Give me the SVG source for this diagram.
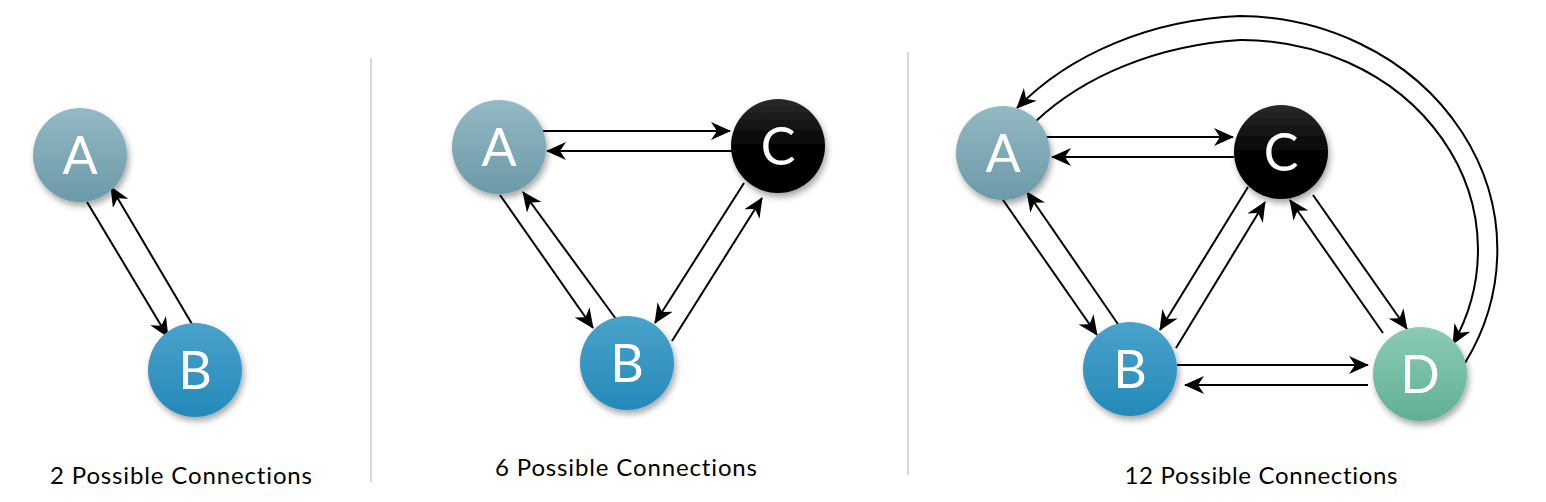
<svg xmlns="http://www.w3.org/2000/svg" width="1546" height="502" viewBox="0 0 1546 502">
<style>
.lbl{font-family:Lato,"Liberation Sans",sans-serif;font-size:24px;fill:#000;text-anchor:middle;font-variant-ligatures:none}
.ltr{font-family:Lato,"Liberation Sans",sans-serif;font-size:52px;fill:#fff;text-anchor:middle}
.cn{fill:none;stroke:#000;stroke-width:2;marker-end:url(#ah)}
.div{stroke:#d9d9d9;stroke-width:2}
</style>
<defs>
<marker id="ah" viewBox="0 0 20 18" refX="19" refY="9" markerWidth="20" markerHeight="18" markerUnits="userSpaceOnUse" orient="auto">
<path d="M0,0 L20,9 L0,18 L6,9 z" fill="#000"/>
</marker>
<linearGradient id="gA" x1="0" y1="0" x2="0" y2="1"><stop offset="0" stop-color="#93b9c4"/><stop offset="1" stop-color="#6c9aa8"/></linearGradient>
<linearGradient id="gB" x1="0" y1="0" x2="0" y2="1"><stop offset="0" stop-color="#4aa2ca"/><stop offset="1" stop-color="#2589b9"/></linearGradient>
<linearGradient id="gC" x1="0" y1="0" x2="0" y2="1"><stop offset="0" stop-color="#2a2a2a"/><stop offset="0.5" stop-color="#050505"/><stop offset="1" stop-color="#000"/></linearGradient>
<linearGradient id="gD" x1="0" y1="0" x2="0" y2="1"><stop offset="0" stop-color="#8ccbb3"/><stop offset="1" stop-color="#5fb096"/></linearGradient>
<filter id="sh" x="-30%" y="-30%" width="160%" height="170%"><feDropShadow dx="2" dy="4" stdDeviation="3" flood-color="#000" flood-opacity="0.35"/></filter>
</defs>

<line class="div" x1="371" y1="58" x2="371" y2="482"/>
<line class="div" x1="908" y1="52" x2="908" y2="475"/>

<g id="connectors">
<line class="cn" x1="87" y1="202" x2="168" y2="337"/>
<line class="cn" x1="192" y1="324" x2="111" y2="187"/>

<line class="cn" x1="540" y1="131" x2="730" y2="131"/>
<line class="cn" x1="732" y1="151" x2="547" y2="151"/>
<line class="cn" x1="500" y1="195" x2="593" y2="328"/>
<line class="cn" x1="616" y1="319" x2="523" y2="192"/>
<line class="cn" x1="744" y1="183" x2="655" y2="323"/>
<line class="cn" x1="672" y1="341" x2="762" y2="198"/>

<line class="cn" x1="1044" y1="137" x2="1233" y2="137"/>
<line class="cn" x1="1234" y1="157" x2="1052" y2="157"/>
<line class="cn" x1="1003" y1="200" x2="1097" y2="335"/>
<line class="cn" x1="1120" y1="327" x2="1027" y2="192"/>
<line class="cn" x1="1248" y1="187" x2="1160" y2="330"/>
<line class="cn" x1="1176" y1="348" x2="1265" y2="202"/>
<line class="cn" x1="1313" y1="195" x2="1407" y2="329"/>
<line class="cn" x1="1383" y1="333" x2="1290" y2="200"/>
<line class="cn" x1="1177" y1="365" x2="1368" y2="365"/>
<line class="cn" x1="1368" y1="385" x2="1185" y2="385"/>
<path class="cn" d="M1465,363 A260,234 0 0 0 1240,16 A300,234 0 0 0 1017,108"/>
<path class="cn" d="M1035,122 A290,210 0 0 1 1240,40 A236,210 0 0 1 1453,344"/>
</g>

<g id="p1-A" filter="url(#sh)"><circle cx="80" cy="155" r="47" fill="url(#gA)"/><text class="ltr" x="80" y="174">A</text></g>
<g id="p1-B" filter="url(#sh)"><circle cx="195" cy="370" r="47" fill="url(#gB)"/><text class="ltr" x="195" y="389">B</text></g>

<g id="p2-A" filter="url(#sh)"><circle cx="499" cy="147" r="47" fill="url(#gA)"/><text class="ltr" x="499" y="166">A</text></g>
<g id="p2-C" filter="url(#sh)"><circle cx="778" cy="146" r="47" fill="url(#gC)"/><text class="ltr" x="778" y="165">C</text></g>
<g id="p2-B" filter="url(#sh)"><circle cx="627" cy="363" r="47" fill="url(#gB)"/><text class="ltr" x="627" y="382">B</text></g>

<g id="p3-A" filter="url(#sh)"><circle cx="1003" cy="153" r="47" fill="url(#gA)"/><text class="ltr" x="1003" y="172">A</text></g>
<g id="p3-C" filter="url(#sh)"><circle cx="1281" cy="152" r="47" fill="url(#gC)"/><text class="ltr" x="1281" y="171">C</text></g>
<g id="p3-B" filter="url(#sh)"><circle cx="1130" cy="369" r="47" fill="url(#gB)"/><text class="ltr" x="1130" y="388">B</text></g>
<g id="p3-D" filter="url(#sh)"><circle cx="1420" cy="374" r="47" fill="url(#gD)"/><text class="ltr" x="1420" y="393">D</text></g>

<text class="lbl" x="181" y="484" textLength="262">2 Possible Connections</text>
<text class="lbl" x="626" y="476" textLength="262">6 Possible Connections</text>
<text class="lbl" x="1261" y="484" textLength="273">12 Possible Connections</text>
</svg>
